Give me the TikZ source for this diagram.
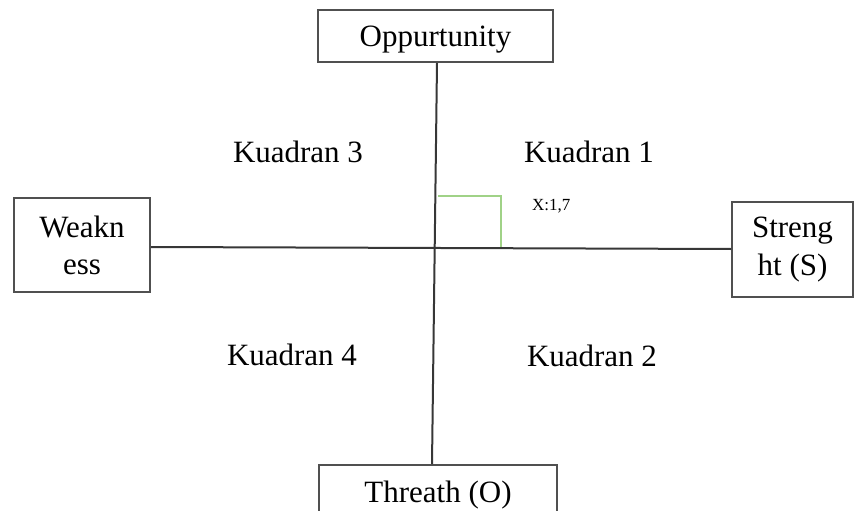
\documentclass[tikz,border=0pt]{standalone}
\usepackage{fontspec}
\setmainfont{Liberation Serif}
\usepackage{tikz}
\usetikzlibrary{positioning}
\definecolor{boxgray}{RGB}{80,80,80}
\definecolor{linegray}{RGB}{55,55,55}
\definecolor{anglegreen}{RGB}{160,210,135}
\tikzset{
 b/.style
  = {rectangle, draw=boxgray, line width=2pt, fill=white, inner sep=0pt,
     align=center, font=\fontsize{31}{37}\selectfont},
 b1/.style
  = {b, text height=24pt, text depth=2pt},
 q/.style
  = {anchor=base, inner sep=0pt, font=\fontsize{31}{37}\selectfont},
 l/.style
  = {draw, linegray, line width=2pt},
 lg/.style
  = {draw, anglegreen, line width=2.5pt}
}
\begin{document}
\begin{tikzpicture}[x=1pt, y=-1pt]
    \useasboundingbox (0,0) rectangle (857,511);
    \clip (0,0) rectangle (857,511);
    \node [b1, minimum width=235pt, minimum height=52pt] (opp) at (435.5,36) {Oppurtunity};
    \node [b1, minimum width=238pt, minimum height=52pt] (threat) at (438,491) {Threath (O)};
    \node [b, minimum width=136pt, minimum height=94pt] (weak) at (82,245) {Weakn\\ess};
    \node [b, minimum width=121pt, minimum height=95pt] (streng) at (792.5,249.5) {Streng\\[1pt]ht (S)};

    \path [l] ([xshift=1.5pt]opp.south) -- ([xshift=-6pt]threat.north);
    \path [l] ([yshift=-2pt]weak.east) -- ([yshift=0.5pt]streng.west);

    \path [lg] (438,196) -- (501,196) -- (501,247);
    \node [anchor=base west, inner sep=0pt, font=\fontsize{17}{20}\selectfont] (xval) at (532,210) {X:1,7};

    \node [q] (k3) at (298,162) {Kuadran 3};
    \node [q] (k1) at (589,162) {Kuadran 1};
    \node [q] (k4) at (292,365) {Kuadran 4};
    \node [q] (k2) at (592,366) {Kuadran 2};
\end{tikzpicture}
\end{document}
